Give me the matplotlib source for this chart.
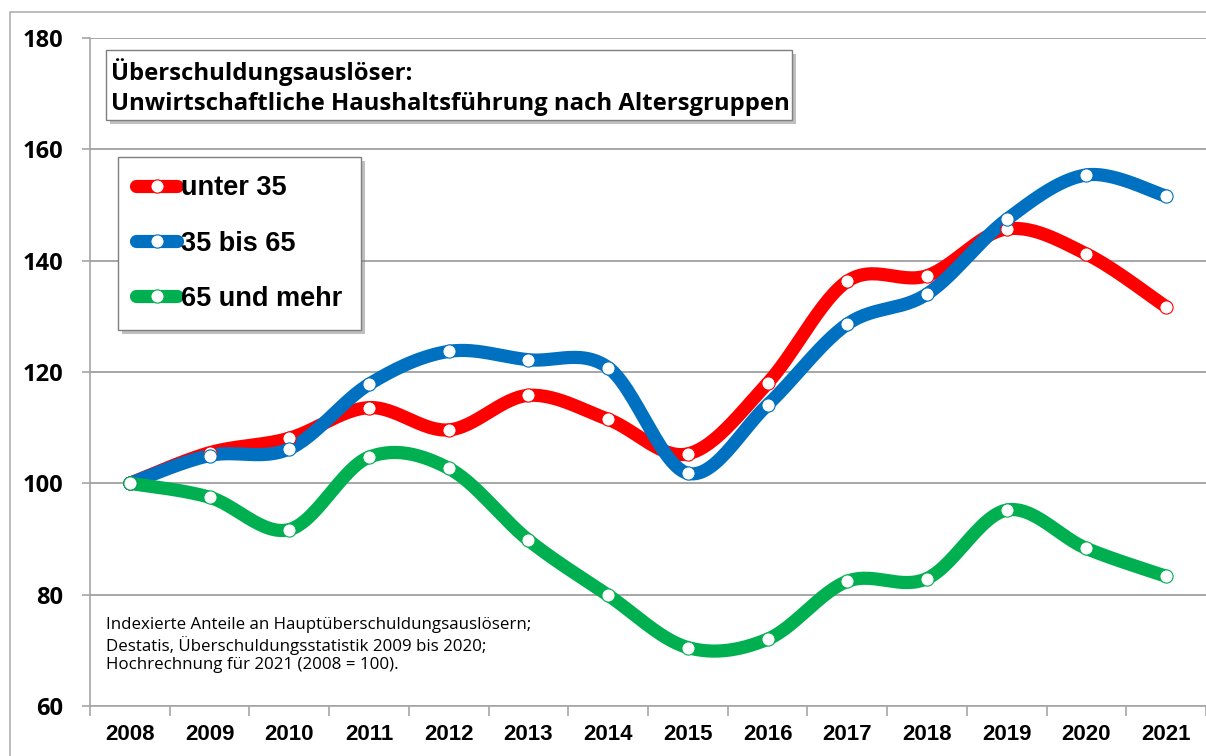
import matplotlib
matplotlib.use('Agg')
import matplotlib.pyplot as plt
import matplotlib.patches as mpatches
import matplotlib.patheffects as pe
from matplotlib.lines import Line2D
import numpy as np

# Daten (2008 = 100)
jahre = list(range(2008, 2022))
unter_35 = [100, 105.5, 108.1, 113.6, 109.6, 115.8, 111.5, 105.3, 118.0, 136.3, 137.3, 145.7, 141.2, 131.7]
mitte_35_65 = [100, 105.0, 106.2, 117.8, 123.7, 122.2, 120.8, 101.8, 114.1, 128.6, 134.0, 147.4, 155.4, 151.6]
ab_65 = [100, 97.5, 91.7, 104.7, 102.7, 89.8, 79.9, 70.5, 72.0, 82.4, 82.9, 95.2, 88.3, 83.3]

serien = [
    ('unter 35', unter_35, '#FF0000'),
    ('35 bis 65', mitte_35_65, '#0070C0'),
    ('65 und mehr', ab_65, '#00B050'),
]

W, H = 1206, 756
GRAU = '#A6A6A6'


def fx(px):
    return px / W


def fy(py):
    # Pixel von oben -> Figurenanteil von unten
    return 1 - py / H


def glatte_kurve(x, y, n=30):
    """Geglättete Linie wie in Excel (Catmull-Rom als Bezier)"""
    x = np.asarray(x, float)
    y = np.asarray(y, float)
    px = np.concatenate([[x[0]], x, [x[-1]]])
    py = np.concatenate([[y[0]], y, [y[-1]]])
    xs, ys = [], []
    t = np.linspace(0, 1, n)
    for i in range(1, len(px) - 2):
        p0 = np.array([px[i], py[i]])
        p3 = np.array([px[i + 1], py[i + 1]])
        c1 = p0 + (np.array([px[i + 1], py[i + 1]]) - np.array([px[i - 1], py[i - 1]])) / 6
        c2 = p3 - (np.array([px[i + 2], py[i + 2]]) - np.array([px[i], py[i]])) / 6
        b = ((1 - t) ** 3)[:, None] * p0 + (3 * (1 - t) ** 2 * t)[:, None] * c1 \
            + (3 * (1 - t) * t ** 2)[:, None] * c2 + (t ** 3)[:, None] * p3
        xs.extend(b[:, 0])
        ys.extend(b[:, 1])
    return xs, ys


fig = plt.figure(figsize=(W / 100, H / 100), dpi=100)
ax = fig.add_axes([fx(90), fy(706), fx(1116), 668 / H])

for name, werte, farbe in serien:
    xs, ys = glatte_kurve(jahre, werte)
    ax.plot(xs, ys, color=farbe, lw=9.5, solid_capstyle='round', zorder=3)
    ax.plot(jahre, werte, 'o', ms=9.5, mfc='white', mec=farbe, mew=0.8, zorder=4)

ax.set_xlim(2007.5, 2021.5)
ax.set_ylim(60, 180)
ax.set_yticks(range(60, 181, 20))
ax.set_xticks(np.arange(2007.5, 2022, 1))
ax.set_xticklabels([])
ax.set_xticks(jahre, minor=True)
ax.set_xticklabels([str(j) for j in jahre], minor=True, fontsize=16,
                   fontweight='bold', family='Liberation Sans')
ax.tick_params(axis='x', which='major', direction='out', length=7, width=1.2, color=GRAU)
ax.tick_params(axis='x', which='minor', length=0, pad=13)
ax.tick_params(axis='y', direction='out', length=6, width=1.2, color=GRAU, pad=13)
for lab in ax.get_yticklabels():
    lab.set_fontsize(17)
    lab.set_fontweight('bold')
    lab.set_family('Open Sans')

ax.grid(True, axis='y', color=GRAU, lw=1.4, zorder=0)
for s in ['top', 'right']:
    ax.spines[s].set_visible(False)
for s in ['left', 'bottom']:
    ax.spines[s].set_color(GRAU)
    ax.spines[s].set_linewidth(1.2)

# Außenrahmen
fig.patches.append(mpatches.Rectangle((fx(10), fy(800)), 2, fy(12) - fy(800),
                                      transform=fig.transFigure, fill=False,
                                      edgecolor='#B0B0B0', lw=1.2))

schatten = [pe.withSimplePatchShadow(offset=(3, -3), shadow_rgbFace='#808080', alpha=0.5)]

# Titelkasten
titel_box = mpatches.Rectangle((fx(106), fy(120)), fx(686), 70 / H,
                               transform=fig.transFigure, facecolor='white',
                               edgecolor='#7F7F7F', lw=1.0, zorder=5)
titel_box.set_path_effects(schatten)
fig.patches.append(titel_box)
fig.text(fx(111), fy(87), 'Überschuldungsauslöser:\nUnwirtschaftliche Haushaltsführung nach Altersgruppen',
         ha='left', va='center', fontsize=17.2, fontweight='bold', family='Open Sans',
         linespacing=1.3, zorder=6)

# Legende
griffe = [Line2D([], [], color=f, lw=9.5, solid_capstyle='round', marker='o', ms=9.5,
                 mfc='white', mec=f, mew=0.8) for _, _, f in serien]
leg = ax.legend(griffe, [n for n, _, _ in serien], loc='upper left',
                bbox_to_anchor=(fx(118), fy(157)), bbox_transform=fig.transFigure,
                prop={'family': 'Liberation Sans', 'weight': 'bold', 'size': 19.5},
                handlelength=1.5, handletextpad=0.15, labelspacing=1.08,
                borderpad=0.68, borderaxespad=0, fancybox=False, framealpha=1,
                edgecolor='#7F7F7F')
leg.get_frame().set_linewidth(1.0)
leg.get_frame().set_path_effects(schatten)
leg.set_zorder(6)

# Quellenhinweis
fig.text(fx(106), fy(645),
         'Indexierte Anteile an Hauptüberschuldungsauslösern;\n'
         'Destatis, Überschuldungsstatistik 2009 bis 2020;\n'
         'Hochrechnung für 2021 (2008 = 100).',
         ha='left', va='center', fontsize=12.2, family='Open Sans', linespacing=1.2)

fig.savefig('out.png', dpi=100, facecolor='white')
